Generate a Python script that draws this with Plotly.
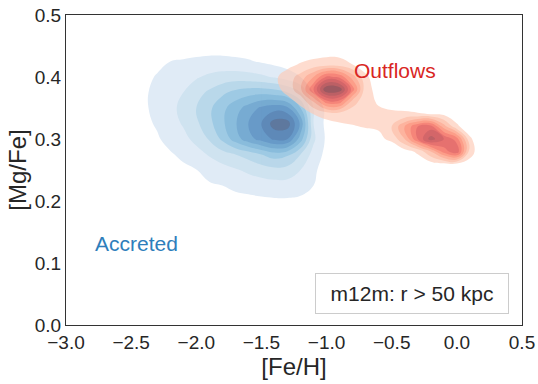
import plotly.graph_objects as go

# Accreted (blue) density, normalised to the peak
BLUE_X = [-2.6, -2.5, -2.4, -2.3, -2.2, -2.1, -2.0, -1.9, -1.8, -1.7,
          -1.6, -1.5, -1.4, -1.3, -1.2, -1.1, -1.0, -0.9, -0.8]
BLUE_Y = [0.175, 0.2, 0.225, 0.25, 0.275, 0.3, 0.325, 0.35, 0.375, 0.4, 0.425, 0.45]
BLUE_Z = [
    [0, 0, 0, 0, 0, 0, 0, 0.01, 0.02, 0.03, 0.03, 0.04, 0.04, 0.04, 0.03, 0.02, 0.01, 0, 0],
    [0, 0, 0, 0.01, 0.02, 0.03, 0.04, 0.05, 0.06, 0.07, 0.07, 0.08, 0.085, 0.085, 0.08, 0.06, 0.03, 0.01, 0],
    [0, 0.01, 0.02, 0.03, 0.05, 0.06, 0.08, 0.09, 0.10, 0.12, 0.14, 0.15, 0.16, 0.16, 0.14, 0.10, 0.05, 0.02, 0],
    [0.01, 0.02, 0.04, 0.05, 0.07, 0.08, 0.098, 0.13, 0.16, 0.19, 0.22, 0.25, 0.27, 0.26, 0.20, 0.12, 0.05, 0.02, 0],
    [0.02, 0.03, 0.05, 0.07, 0.09, 0.12, 0.16, 0.21, 0.26, 0.30, 0.34, 0.40, 0.45, 0.42, 0.30, 0.16, 0.07, 0.02, 0],
    [0.03, 0.05, 0.07, 0.09, 0.13, 0.17, 0.23, 0.31, 0.42, 0.55, 0.66, 0.74, 0.82, 0.80, 0.55, 0.22, 0.08, 0.02, 0],
    [0.04, 0.06, 0.08, 0.11, 0.16, 0.21, 0.28, 0.37, 0.48, 0.59, 0.70, 0.80, 0.95, 0.95, 0.68, 0.20, 0.07, 0.02, 0],
    [0.04, 0.06, 0.09, 0.12, 0.17, 0.23, 0.30, 0.38, 0.47, 0.56, 0.64, 0.72, 0.76, 0.72, 0.50, 0.20, 0.07, 0.02, 0],
    [0.04, 0.06, 0.09, 0.12, 0.16, 0.20, 0.26, 0.32, 0.38, 0.43, 0.46, 0.47, 0.45, 0.40, 0.30, 0.10, 0.04, 0.01, 0],
    [0.02, 0.04, 0.07, 0.11, 0.14, 0.17, 0.19, 0.22, 0.24, 0.25, 0.24, 0.22, 0.19, 0.15, 0.10, 0.05, 0.02, 0, 0],
    [0.01, 0.02, 0.04, 0.07, 0.10, 0.11, 0.12, 0.13, 0.13, 0.12, 0.11, 0.09, 0.07, 0.05, 0.03, 0.01, 0, 0, 0],
    [0, 0, 0.01, 0.02, 0.03, 0.04, 0.05, 0.05, 0.05, 0.05, 0.04, 0.03, 0.02, 0.01, 0, 0, 0, 0, 0],
]

# Outflows (red) density, normalised to the peak
RED_X = [-1.5, -1.4, -1.3, -1.2, -1.1, -1.0, -0.9, -0.8, -0.7, -0.6,
         -0.5, -0.4, -0.3, -0.2, -0.1, 0.0, 0.1, 0.2]
RED_Y = [0.24, 0.26, 0.28, 0.30, 0.32, 0.34, 0.36, 0.38, 0.40, 0.42, 0.44]
RED_Z = [
    [0, 0, 0, 0, 0, 0, 0, 0, 0, 0, 0, 0, 0, 0.01, 0.02, 0.03, 0.02, 0],
    [0, 0, 0, 0, 0, 0, 0, 0, 0, 0, 0.01, 0.02, 0.03, 0.06, 0.08, 0.09, 0.06, 0],
    [0, 0, 0, 0, 0, 0, 0, 0, 0.01, 0.02, 0.03, 0.06, 0.12, 0.30, 0.55, 0.68, 0.15, 0.01],
    [0, 0, 0, 0.01, 0.01, 0.02, 0.03, 0.04, 0.06, 0.08, 0.12, 0.30, 0.60, 0.85, 0.70, 0.55, 0.12, 0],
    [0, 0, 0.01, 0.02, 0.04, 0.06, 0.08, 0.095, 0.105, 0.11, 0.20, 0.40, 0.60, 0.65, 0.35, 0.12, 0.03, 0],
    [0, 0.01, 0.03, 0.06, 0.10, 0.13, 0.14, 0.13, 0.12, 0.12, 0.12, 0.12, 0.11, 0.10, 0.08, 0.04, 0.01, 0],
    [0.01, 0.03, 0.07, 0.12, 0.30, 0.55, 0.55, 0.25, 0.13, 0.09, 0.06, 0.04, 0.03, 0.02, 0.01, 0, 0, 0],
    [0.03, 0.07, 0.13, 0.28, 0.60, 1.00, 0.97, 0.55, 0.13, 0.07, 0.03, 0.01, 0, 0, 0, 0, 0, 0],
    [0.03, 0.08, 0.15, 0.24, 0.40, 0.62, 0.58, 0.35, 0.12, 0.04, 0.01, 0, 0, 0, 0, 0, 0, 0],
    [0.01, 0.04, 0.07, 0.11, 0.14, 0.16, 0.15, 0.10, 0.05, 0.02, 0, 0, 0, 0, 0, 0, 0, 0],
    [0, 0.01, 0.02, 0.04, 0.05, 0.06, 0.06, 0.05, 0.03, 0.01, 0, 0, 0, 0, 0, 0, 0, 0],
]

X_TICKS = [-3.0, -2.5, -2.0, -1.5, -1.0, -0.5, 0.0, 0.5]
Y_TICKS = [0.0, 0.1, 0.2, 0.3, 0.4, 0.5]

FONT = "Arial, Liberation Sans, sans-serif"

# band colours (cmap sampled at 0.2 ... 1.0), lowest band left empty
BLUES = [(208, 225, 242), (182, 212, 233), (148, 196, 223), (107, 174, 214),
         (74, 152, 201), (46, 126, 187), (23, 100, 171), (8, 74, 146), (8, 48, 107)]
REDS = [(253, 202, 181), (252, 171, 142), (252, 138, 106), (251, 106, 74),
        (241, 68, 50), (217, 38, 35), (188, 20, 26), (153, 12, 19), (103, 0, 13)]


def band_scale(cols):
    n = len(cols)
    scale = [[0.0, "rgba(255,255,255,0)"]]
    for i, c in enumerate(cols):
        scale.append([(i + 1) / n, f"rgb({c[0]},{c[1]},{c[2]})"])
    return scale


fig = go.Figure()

for xs, ys, zs, cols in [(BLUE_X, BLUE_Y, BLUE_Z, BLUES), (RED_X, RED_Y, RED_Z, REDS)]:
    fig.add_trace(go.Contour(
        x=xs, y=ys, z=zs,
        contours=dict(start=0.1, end=0.9, size=0.1, coloring="fill", showlines=False),
        line=dict(width=0, smoothing=1.2),
        colorscale=band_scale(cols),
        opacity=0.65,
        showscale=False,
        hoverinfo="skip",
    ))

fig.add_annotation(x=-2.46, y=0.132, text="Accreted", showarrow=False,
                   font=dict(family=FONT, size=21, color="rgb(46,126,187)"))
fig.add_annotation(x=-0.475, y=0.411, text="Outflows", showarrow=False,
                   font=dict(family=FONT, size=21, color="rgb(217,38,35)"))
fig.add_annotation(xref="paper", yref="paper", x=0.971, y=0.035,
                   xanchor="right", yanchor="bottom",
                   text="m12m: r &gt; 50 kpc", showarrow=False,
                   width=178, height=25, borderpad=7,
                   bordercolor="#cccccc", borderwidth=1, bgcolor="white",
                   font=dict(family=FONT, size=21, color="#262626"))

fig.update_layout(
    width=538, height=384,
    margin=dict(l=66, r=16, t=15, b=59),
    paper_bgcolor="white", plot_bgcolor="white",
    font=dict(family=FONT, color="#262626"),
    showlegend=False,
)
fig.update_xaxes(range=[-3.0, 0.5], tickvals=X_TICKS, tickformat=".1f",
                 title=dict(text="[Fe/H]", font=dict(size=24), standoff=1),
                 tickfont=dict(size=19), showgrid=False, zeroline=False,
                 showline=True, mirror=True, linecolor="#333333", linewidth=1.25,
                 automargin=False)
fig.update_yaxes(range=[0.0, 0.5], tickvals=Y_TICKS, tickformat=".1f",
                 title=dict(text="[Mg/Fe]", font=dict(size=24), standoff=1),
                 tickfont=dict(size=19), showgrid=False, zeroline=False,
                 showline=True, mirror=True, linecolor="#333333", linewidth=1.25,
                 automargin=False)

# page body margin would shift the 538x384 figure inside the window
fig.write_html("out.html", config={"displayModeBar": False},
               post_script="document.body.style.margin='0';")
